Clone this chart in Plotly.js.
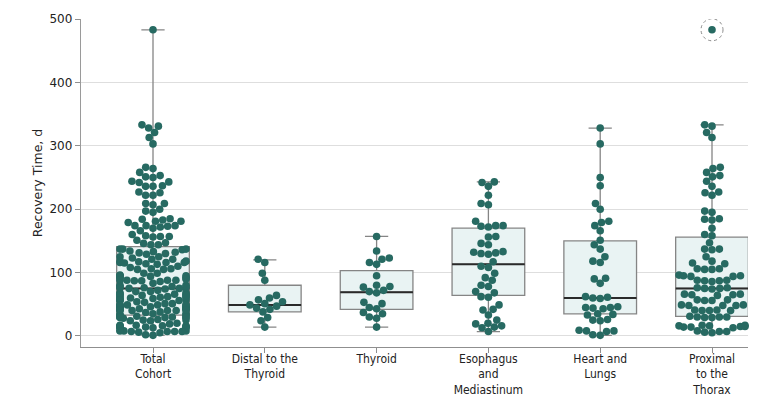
<!DOCTYPE html>
<html>
<head>
<meta charset="utf-8">
<script src="https://cdn.plot.ly/plotly-3.0.1.min.js"></script>
<style>html,body{margin:0;padding:0;background:#fff;}#chart{width:780px;height:411px;}</style>
</head>
<body>
<div id="chart"></div>
<script>
// ---- Data ----
const categories = ["Total<br>Cohort", "Distal to the<br>Thyroid", "Thyroid", "Esophagus<br>and<br>Mediastinum", "Heart and<br>Lungs", "Proximal<br>to the<br>Thorax"];

const distal = [121, 116, 99, 88, 64, 60, 57, 54, 51, 49, 47, 44, 42, 38, 29, 24, 14];
const thyroid = [157, 134, 123, 121, 116, 113, 95, 80, 78, 77, 72, 70, 68, 53, 51, 45, 43, 37, 35, 30, 28, 14];
const esophagus = [243, 242, 236, 222, 209, 207, 181, 174, 174, 173, 172, 157, 156, 146, 144, 133, 132, 131, 130, 129, 117, 110, 108, 99, 92, 88, 80, 78, 70, 68, 62, 61, 49, 42, 41, 33, 25, 20, 19, 16, 14, 13, 7];
const heart = [328, 303, 250, 237, 209, 200, 181, 179, 174, 166, 151, 144, 137, 125, 118, 116, 91, 90, 83, 62, 61, 60, 59, 46, 45, 45, 44, 43, 35, 34, 33, 26, 25, 24, 9, 8, 8, 7, 2, 1];
const proximal = [483, 333, 331, 321, 313, 266, 264, 258, 253, 251, 244, 236, 227, 226, 222, 197, 195, 185, 184, 183, 170, 160, 158, 147,
  137, 137, 136, 125, 118, 115, 114, 106, 106, 105, 105, 96, 95, 95, 94, 94, 88, 88, 87, 87, 86, 76, 76, 75, 75, 74,
  66, 66, 65, 65, 64, 57, 57, 56, 56, 49, 49, 48, 48, 48, 41, 41, 40, 40, 40, 31, 30, 30, 30, 29, 29,
  17, 17, 16, 16, 15, 15, 14, 14, 13, 8, 7, 7, 6, 5];
// Total cohort = all patients
const totalCohort = [].concat(distal, thyroid, esophagus, heart, proximal);

// Box statistics
const q1 = [33, 38, 42, 64, 35, 31];
const medians = [75, 49, 69, 113, 60, 75];
const q3 = [141, 80, 103, 170, 150, 156];
const lowerFence = [1, 14, 14, 7, 1, 5];
const upperFence = [483, 120, 157, 243, 328, 333];

const groups = [totalCohort, distal, thyroid, esophagus, heart, proximal];

// ---- Layout geometry ----
const W = 780, H = 411;
const M = {l: 81, r: 32, t: 19, b: 64};
const xRange = [-0.644, 5.322];
const yRange = [-17.4, 500];
const pxX = (W - M.l - M.r) / (xRange[1] - xRange[0]);
const pxY = (H - M.t - M.b) / (yRange[1] - yRange[0]);
const boxWidth = 0.65;
const dotSize = 7.6;

// Beeswarm offsets (pixel space), computed from the values
function swarm(vals, d, half) {
  const idx = vals.map((v, i) => i).sort((a, b) => vals[a] - vals[b]);
  const placed = [];
  const off = new Array(vals.length);
  for (const i of idx) {
    const y = vals[i] * pxY;
    const near = placed.filter(p => Math.abs(p.y - y) < d);
    const cands = [0];
    near.forEach(p => {
      const dx = Math.sqrt(d * d - (p.y - y) * (p.y - y));
      cands.push(p.x + dx, p.x - dx);
    });
    cands.sort((a, b) => Math.abs(a) - Math.abs(b) || a - b);
    let x = cands.find(c => near.every(p => (p.x - c) * (p.x - c) + (p.y - y) * (p.y - y) >= d * d - 1e-6));
    if (x === undefined) x = 0;
    if (Math.abs(x) > half) x = Math.sign(x) * half;
    placed.push({x, y});
    off[i] = x;
  }
  return off;
}

const ptX = [], ptY = [];
groups.forEach((vals, gi) => {
  const off = swarm(vals, 7.4, 33);
  vals.forEach((v, i) => { ptX.push(gi + off[i] / pxX); ptY.push(v); });
});

const xIdx = categories.map((c, i) => i);

const boxTrace = {
  type: 'box',
  x: xIdx,
  q1: q1, median: medians, q3: q3,
  lowerfence: lowerFence, upperfence: upperFence,
  width: boxWidth,
  whiskerwidth: 0.32,
  fillcolor: '#e9f3f3',
  line: {color: '#858585', width: 1.3},
  boxpoints: false,
  hoverinfo: 'skip',
  showlegend: false
};

const medX = [], medY = [];
medians.forEach((m, i) => { medX.push(i - boxWidth / 2, i + boxWidth / 2, null); medY.push(m, m, null); });
const medianTrace = {
  type: 'scatter', mode: 'lines', x: medX, y: medY,
  line: {color: '#2a2a2a', width: 2}, hoverinfo: 'skip', showlegend: false
};

const pointTrace = {
  type: 'scatter', mode: 'markers', x: ptX, y: ptY,
  marker: {color: '#276a62', size: dotSize, line: {width: 0}},
  hoverinfo: 'skip', showlegend: false, cliponaxis: false
};

const outlierVal = Math.max(...proximal);

const layout = {
  width: W, height: H,
  margin: M,
  paper_bgcolor: '#ffffff', plot_bgcolor: '#ffffff',
  showlegend: false,
  font: {family: 'DejaVu Sans, sans-serif', size: 12, color: '#333333'},
  xaxis: {
    range: xRange,
    tickvals: xIdx, ticktext: categories,
    showgrid: false, zeroline: false,
    showline: true, linecolor: '#8f8f8f', linewidth: 1.3,
    ticks: 'outside', ticklen: 5, tickcolor: '#8f8f8f', tickwidth: 1,
    ticklabelstandoff: -5,
    tickfont: {family: 'DejaVu Sans Condensed, Liberation Sans Narrow, sans-serif', size: 12, color: '#222222'},
    fixedrange: true
  },
  yaxis: {
    range: yRange,
    tickvals: [0, 100, 200, 300, 400, 500],
    showgrid: true, gridcolor: '#dedede', gridwidth: 1,
    zeroline: false,
    showline: true, linecolor: '#9a9a9a', linewidth: 1.3,
    ticks: 'outside', ticklen: 5, tickcolor: '#8f8f8f', tickwidth: 1,
    tickfont: {family: 'DejaVu Sans, sans-serif', size: 12, color: '#222222'},
    title: {text: 'Recovery Time, d', font: {family: 'DejaVu Sans, sans-serif', size: 12.5, color: '#222222'}, standoff: 4},
    fixedrange: true
  },
  shapes: [{
    type: 'circle', xref: 'x', yref: 'y',
    xsizemode: 'pixel', ysizemode: 'pixel',
    xanchor: 5, yanchor: outlierVal,
    x0: -11, x1: 11, y0: -11, y1: 11,
    line: {color: '#8a8a8a', width: 1, dash: 'dot'},
    fillcolor: 'rgba(0,0,0,0)'
  }]
};

Plotly.newPlot('chart', [boxTrace, medianTrace, pointTrace], layout, {staticPlot: true, displayModeBar: false});
</script>
</body>
</html>
